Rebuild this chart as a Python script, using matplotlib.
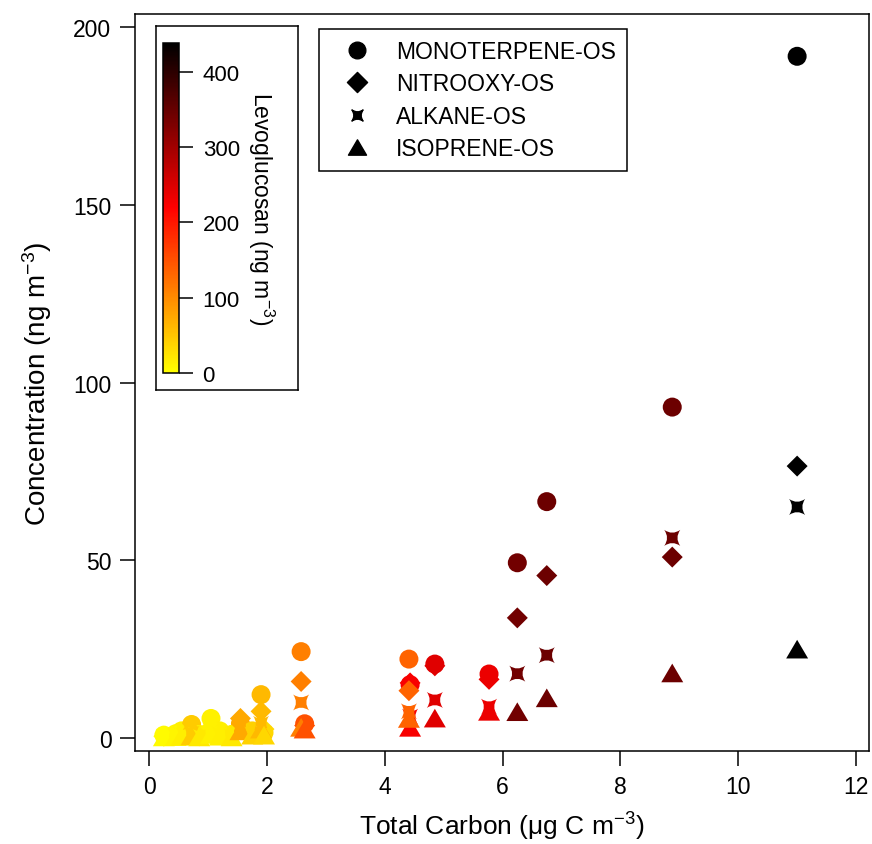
import matplotlib.pyplot as plt
from matplotlib.colors import LinearSegmentedColormap, Normalize
from matplotlib.path import Path
from matplotlib.lines import Line2D
from matplotlib.cm import ScalarMappable

plt.rcParams.update({
	'font.family': 'Liberation Sans',
	'mathtext.fontset': 'custom',
	'mathtext.rm': 'Liberation Sans',
	'mathtext.it': 'Liberation Sans:italic',
	'axes.linewidth': 1.1,
})

# one entry per sample
total_carbon = [0.25, 0.45, 0.55, 0.72, 0.85, 1.05, 1.2, 1.4, 1.55, 1.75, 1.9, 1.95,
	2.58, 2.64, 4.43, 4.41, 4.85, 5.77, 6.25, 6.75, 8.88, 11.0]
levoglucosan = [5, 10, 15, 45, 20, 12, 15, 20, 75, 40, 60, 35,
	110, 150, 225, 135, 245, 235, 340, 345, 345, 440]
monoterpene_os = [0.8, 1.2, 2.0, 3.8, 1.0, 5.5, 2.0, 1.0, 4.0, 2.0, 12.2, 1.5,
	24.3, 4.0, 15.0, 22.2, 20.8, 18.0, 49.3, 66.5, 93.1, 191.8]
nitrooxy_os = [0.5, 0.8, 1.2, 2.0, 0.6, 3.0, 1.5, 0.8, 5.5, 1.5, 7.5, 2.5,
	15.9, 3.5, 15.5, 13.3, 20.3, 16.5, 33.8, 45.7, 50.9, 76.5]
alkane_os = [0.4, 0.6, 0.8, 1.2, 0.5, 1.5, 1.0, 0.5, 3.5, 1.0, 4.0, 1.2,
	10.0, 3.0, 6.0, 7.5, 10.7, 8.8, 18.1, 23.3, 56.3, 65.0]
isoprene_os = [0.3, 0.4, 0.5, 0.6, 0.3, 1.0, 0.5, 0.3, 2.0, 0.8, 2.5, 0.8,
	3.0, 2.5, 3.0, 5.5, 5.6, 7.5, 7.4, 11.3, 18.3, 25.0]

# marker shapes
M, C3, CL = Path.MOVETO, Path.CURVE3, Path.CLOSEPOLY
star4 = Path([(-1, 1), (0, 0.3), (1, 1), (0.3, 0), (1, -1), (0, -0.3), (-1, -1), (-0.3, 0), (-1, 1), (-1, 1)],
	[M, C3, C3, C3, C3, C3, C3, C3, C3, CL])
diamond = Path([(0, 1), (1, 0), (0, -1), (-1, 0), (0, 1)], [M, 2, 2, 2, CL])
triangle = Path([(0, 0.85), (-1, -0.85), (1, -0.85), (0, 0.85)], [M, 2, 2, CL])

series = [
	('MONOTERPENE-OS', monoterpene_os, 'o', 187, 12),
	('NITROOXY-OS', nitrooxy_os, diamond, 228, 14.5),
	('ALKANE-OS', alkane_os, star4, 132, 8),
	('ISOPRENE-OS', isoprene_os, triangle, 250, 13),
]

cmap = LinearSegmentedColormap.from_list('yellowhot', ['yellow', 'red', 'black'])
norm = Normalize(vmin=0, vmax=438)

fig = plt.figure(figsize=(8.72, 8.45), dpi=100)
ax = fig.add_axes([135/872, 1-752/845, 734/872, 737/845])

handles = []
for name, values, marker, size, lsize in series:
	ax.scatter(total_carbon, values, c=levoglucosan, cmap=cmap, norm=norm,
		marker=marker, s=size, linewidths=0)
	handles.append(Line2D([], [], linestyle='none', marker=marker, color='black',
		markersize=lsize, label=name))

ax.set_xlim(-0.24, 12.22)
ax.set_ylim(-3.66, 203.7)
ax.set_xticks(range(0, 13, 2))
ax.set_yticks(range(0, 201, 50))
ax.tick_params(direction='out', length=11, width=1.1, labelsize=16.5, pad=6)
ax.set_xlabel('Total Carbon (μg C m$^{-3}$)', fontsize=19, labelpad=9)
ax.set_ylabel('Concentration (ng m$^{-3}$)', fontsize=20, labelpad=14)

leg = ax.legend(handles=handles, loc='upper left', bbox_to_anchor=(0.2507, 0.98),
	fontsize=16.5, frameon=True, fancybox=False, edgecolor='black', framealpha=1,
	borderpad=0.5, labelspacing=0.4, handlelength=2.3, handletextpad=0.55,
	borderaxespad=0)
leg.get_frame().set_linewidth(1.1)

# colour scale box
box = fig.add_axes([156/872, 1-391/845, 142/872, 364/845])
box.set_xticks([])
box.set_yticks([])
cax = fig.add_axes([163/872, 1-374/845, 16/872, 330/845])
cb = fig.colorbar(ScalarMappable(norm=norm, cmap=cmap), cax=cax, ticks=range(0, 401, 100))
cb.outline.set_linewidth(1.1)
cax.tick_params(direction='out', length=10, width=1.1, labelsize=16, pad=7)
cb.set_label('Levoglucosan (ng m$^{-3}$)', fontsize=16.5, rotation=270, labelpad=26)

fig.savefig('out.png', dpi=100)
